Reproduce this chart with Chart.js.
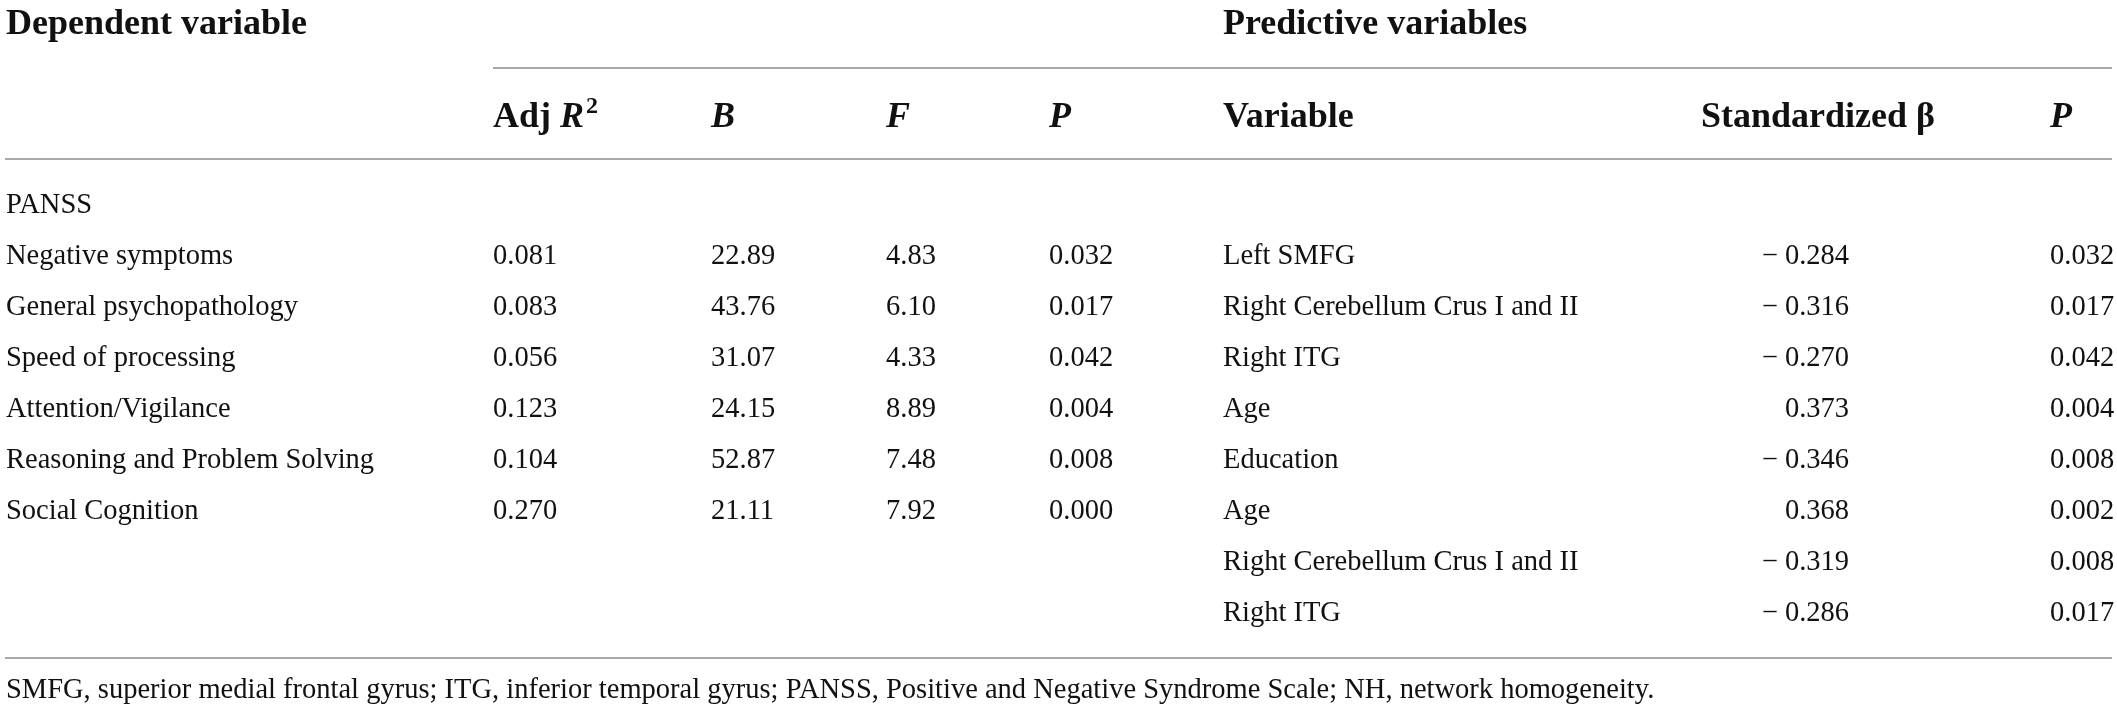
<!DOCTYPE html>
<html>
<head>
<meta charset="utf-8">
<script src="https://cdn.jsdelivr.net/npm/chart.js@4.4.1/dist/chart.umd.min.js"></script>
<style>
  html, body { margin: 0; padding: 0; background: #fff; }
  #wrap { width: 2117px; height: 717px; position: relative; }
</style>
</head>
<body>
<div id="wrap"><canvas id="tbl"></canvas></div>
<script>
// table content
var groupLabel = 'PANSS';
var dependentVars = ['Negative symptoms', 'General psychopathology', 'Speed of processing',
                     'Attention/Vigilance', 'Reasoning and Problem Solving', 'Social Cognition'];
var adjR2 = [0.081, 0.083, 0.056, 0.123, 0.104, 0.270];
var bVals = [22.89, 43.76, 31.07, 24.15, 52.87, 21.11];
var fVals = [4.83, 6.10, 4.33, 8.89, 7.48, 7.92];
var pVals = [0.032, 0.017, 0.042, 0.004, 0.008, 0.000];

var predictors = ['Left SMFG', 'Right Cerebellum Crus I and II', 'Right ITG', 'Age',
                  'Education', 'Age', 'Right Cerebellum Crus I and II', 'Right ITG'];
var betas = [-0.284, -0.316, -0.270, 0.373, -0.346, 0.368, -0.319, -0.286];
var predP = [0.032, 0.017, 0.042, 0.004, 0.008, 0.002, 0.008, 0.017];

var footnote = 'SMFG, superior medial frontal gyrus; ITG, inferior temporal gyrus; PANSS, Positive and Negative Syndrome Scale; NH, network homogeneity.';

// row categories for the y axis: group row + one per predictor row
var rowKeys = [groupLabel];
for (let i = 0; i < predictors.length; i++) rowKeys.push('row' + (i + 1));

// layout (pixels), kept apart from the data
var W = 2117, H = 717;
var col = { label: 6, adj: 493, b: 711, f: 886, p: 1049, variable: 1223, betaHead: 1701, betaRight: 1849, p2: 2050 };
var lineRight = 2112;
var titleBase = 34, headBase = 127, ruleTop = 68, ruleHead = 159, ruleBottom = 658, footBase = 698;
var bodyFont = '28.5px "Liberation Serif"';
var boldFont = 'bold 36px "Liberation Serif"';
var italBold = 'italic bold 36px "Liberation Serif"';
var ruleColor = '#a9a9a9';

function fmtBeta(v) {
    return (v < 0 ? '\u2212 ' : '') + Math.abs(v).toFixed(3);
}

var tablePlugin = {
    id: 'tablePlugin',
    afterDraw: function(chart) {
        var ctx = chart.ctx;
        var xs = chart.scales.x, ys = chart.scales.y;
        var X = function(v) { return xs.getPixelForValue(v); };
        var Yrow = function(i) { return ys.getPixelForValue(i) + 10; };

        ctx.save();
        ctx.fillStyle = '#111';
        ctx.textBaseline = 'alphabetic';

        // rules
        ctx.strokeStyle = ruleColor;
        ctx.lineWidth = 2;
        [[col.adj, ruleTop], [5, ruleHead], [5, ruleBottom]].forEach(function(r) {
            ctx.beginPath();
            ctx.moveTo(X(r[0]), r[1]);
            ctx.lineTo(X(lineRight), r[1]);
            ctx.stroke();
        });

        // group titles
        ctx.font = boldFont;
        ctx.textAlign = 'left';
        ctx.fillText('Dependent variable', X(col.label), titleBase);
        ctx.fillText('Predictive variables', X(col.variable), titleBase);

        // column headers
        ctx.fillText('Adj ', X(col.adj), headBase);
        var w = ctx.measureText('Adj ').width;
        ctx.font = italBold;
        ctx.fillText('R', X(col.adj) + w, headBase);
        var w2 = ctx.measureText('R').width;
        ctx.font = 'bold 24px "Liberation Serif"';
        ctx.fillText('2', X(col.adj) + w + w2 + 2, headBase - 14);
        ctx.font = italBold;
        ctx.fillText('B', X(col.b), headBase);
        ctx.fillText('F', X(col.f), headBase);
        ctx.fillText('P', X(col.p), headBase);
        ctx.fillText('P', X(col.p2), headBase);
        ctx.font = boldFont;
        ctx.fillText('Variable', X(col.variable), headBase);
        ctx.fillText('Standardized \u03b2', X(col.betaHead), headBase);

        // body
        ctx.font = bodyFont;
        ctx.fillText(groupLabel, X(col.label), Yrow(0));
        dependentVars.forEach(function(name, i) {
            var y = Yrow(i + 1);
            ctx.textAlign = 'left';
            ctx.fillText(name, X(col.label), y);
            ctx.fillText(adjR2[i].toFixed(3), X(col.adj), y);
            ctx.fillText(bVals[i].toFixed(2), X(col.b), y);
            ctx.fillText(fVals[i].toFixed(2), X(col.f), y);
            ctx.fillText(pVals[i].toFixed(3), X(col.p), y);
        });
        predictors.forEach(function(name, i) {
            var y = Yrow(i + 1);
            ctx.textAlign = 'left';
            ctx.fillText(name, X(col.variable), y);
            ctx.fillText(predP[i].toFixed(3), X(col.p2), y);
            ctx.textAlign = 'right';
            ctx.fillText(fmtBeta(betas[i]), X(col.betaRight), y);
        });

        // footnote
        ctx.textAlign = 'left';
        ctx.fillText(footnote, X(col.label), footBase);
        ctx.restore();
    }
};

var ctx = document.getElementById('tbl');
var chart = new Chart(ctx, {
    type: 'scatter',
    data: { datasets: [] },
    options: {
        responsive: true,
        maintainAspectRatio: false,
        animation: false,
        events: [],
        layout: { padding: { top: 177, bottom: 80, left: 0, right: 0 } },
        scales: {
            x: { type: 'linear', min: 0, max: W, display: false },
            y: { type: 'category', labels: rowKeys, offset: true, display: false }
        },
        plugins: { legend: { display: false }, tooltip: { enabled: false } }
    },
    plugins: [tablePlugin]
});
</script>
</body>
</html>
